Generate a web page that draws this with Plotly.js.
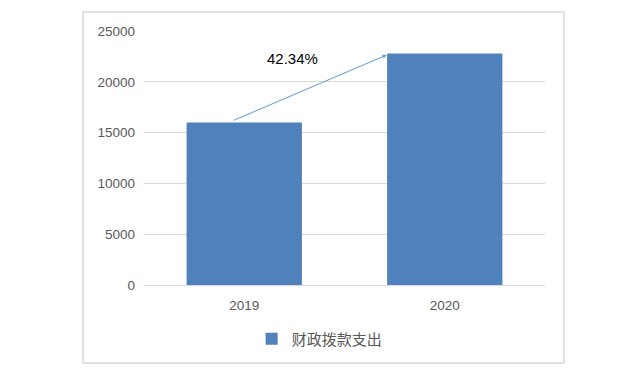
<!DOCTYPE html>
<html>
<head>
<meta charset="utf-8">
<script src="https://cdn.plot.ly/plotly-3.0.1.min.js"></script>
<style>html,body{margin:0;padding:0;background:#fff;}#chart{width:633px;height:379px;}</style>
</head>
<body>
<div id="chart"></div>
<script>
var categories = ["2019", "2020"];
var values = [16000, 22774];
var seriesName = "财政拨款支出";
var growthLabel = "42.34%";
var yTicks = [0, 5000, 10000, 15000, 20000, 25000];

var trace = {
  type: "bar",
  x: categories,
  y: values,
  name: seriesName,
  width: 0.575,
  marker: {color: "#4F81BD"},
  showlegend: true,
  hoverinfo: "x+y"
};

var layout = {
  width: 633,
  height: 379,
  margin: {l: 144, r: 88, t: 31, b: 94},
  paper_bgcolor: "#ffffff",
  plot_bgcolor: "#ffffff",
  font: {family: "Liberation Sans, Arial, sans-serif", color: "#595959", size: 13},
  xaxis: {
    type: "category",
    showgrid: false,
    showline: false,
    ticks: "",
    tickfont: {size: 13.5, color: "#595959"},
    ticklabelstandoff: 10
  },
  yaxis: {
    range: [0, 25000],
    tickvals: yTicks,
    ticktext: yTicks.map(String),
    showgrid: true,
    gridcolor: "#D9D9D9",
    gridwidth: 1,
    zeroline: true,
    zerolinecolor: "#D9D9D9",
    zerolinewidth: 1,
    showline: false,
    ticks: "",
    tickfont: {size: 13.5, color: "#595959"},
    ticklabelstandoff: 8
  },
  legend: {
    orientation: "h",
    x: 0.438, xanchor: "center",
    y: -0.213, yanchor: "middle",
    font: {family: "Noto Sans CJK SC, sans-serif", size: 15, color: "#595959"},
    itemwidth: 30
  },
  bargap: 0.425,
  annotations: [
    {
      x: 0.71, y: 22638, xref: "x", yref: "y",
      ax: -0.06, ay: 16142, axref: "x", ayref: "y",
      showarrow: true, arrowhead: 2, arrowsize: 0.8, arrowwidth: 1,
      arrowcolor: "#5B9BD5", text: ""
    },
    {
      x: 0.243, y: 22343, xref: "x", yref: "y",
      text: growthLabel, showarrow: false,
      font: {family: "Liberation Sans, Arial, sans-serif", size: 15, color: "#000000"}
    }
  ],
  shapes: [
    {
      type: "rect", xref: "paper", yref: "paper",
      x0: -0.152, x1: 1.047, y0: -0.307, y1: 1.075,
      line: {color: "#D9D9D9", width: 1.5}, fillcolor: "rgba(0,0,0,0)"
    }
  ]
};

Plotly.newPlot("chart", [trace], layout, {displayModeBar: false, staticPlot: true});
</script>
</body>
</html>
